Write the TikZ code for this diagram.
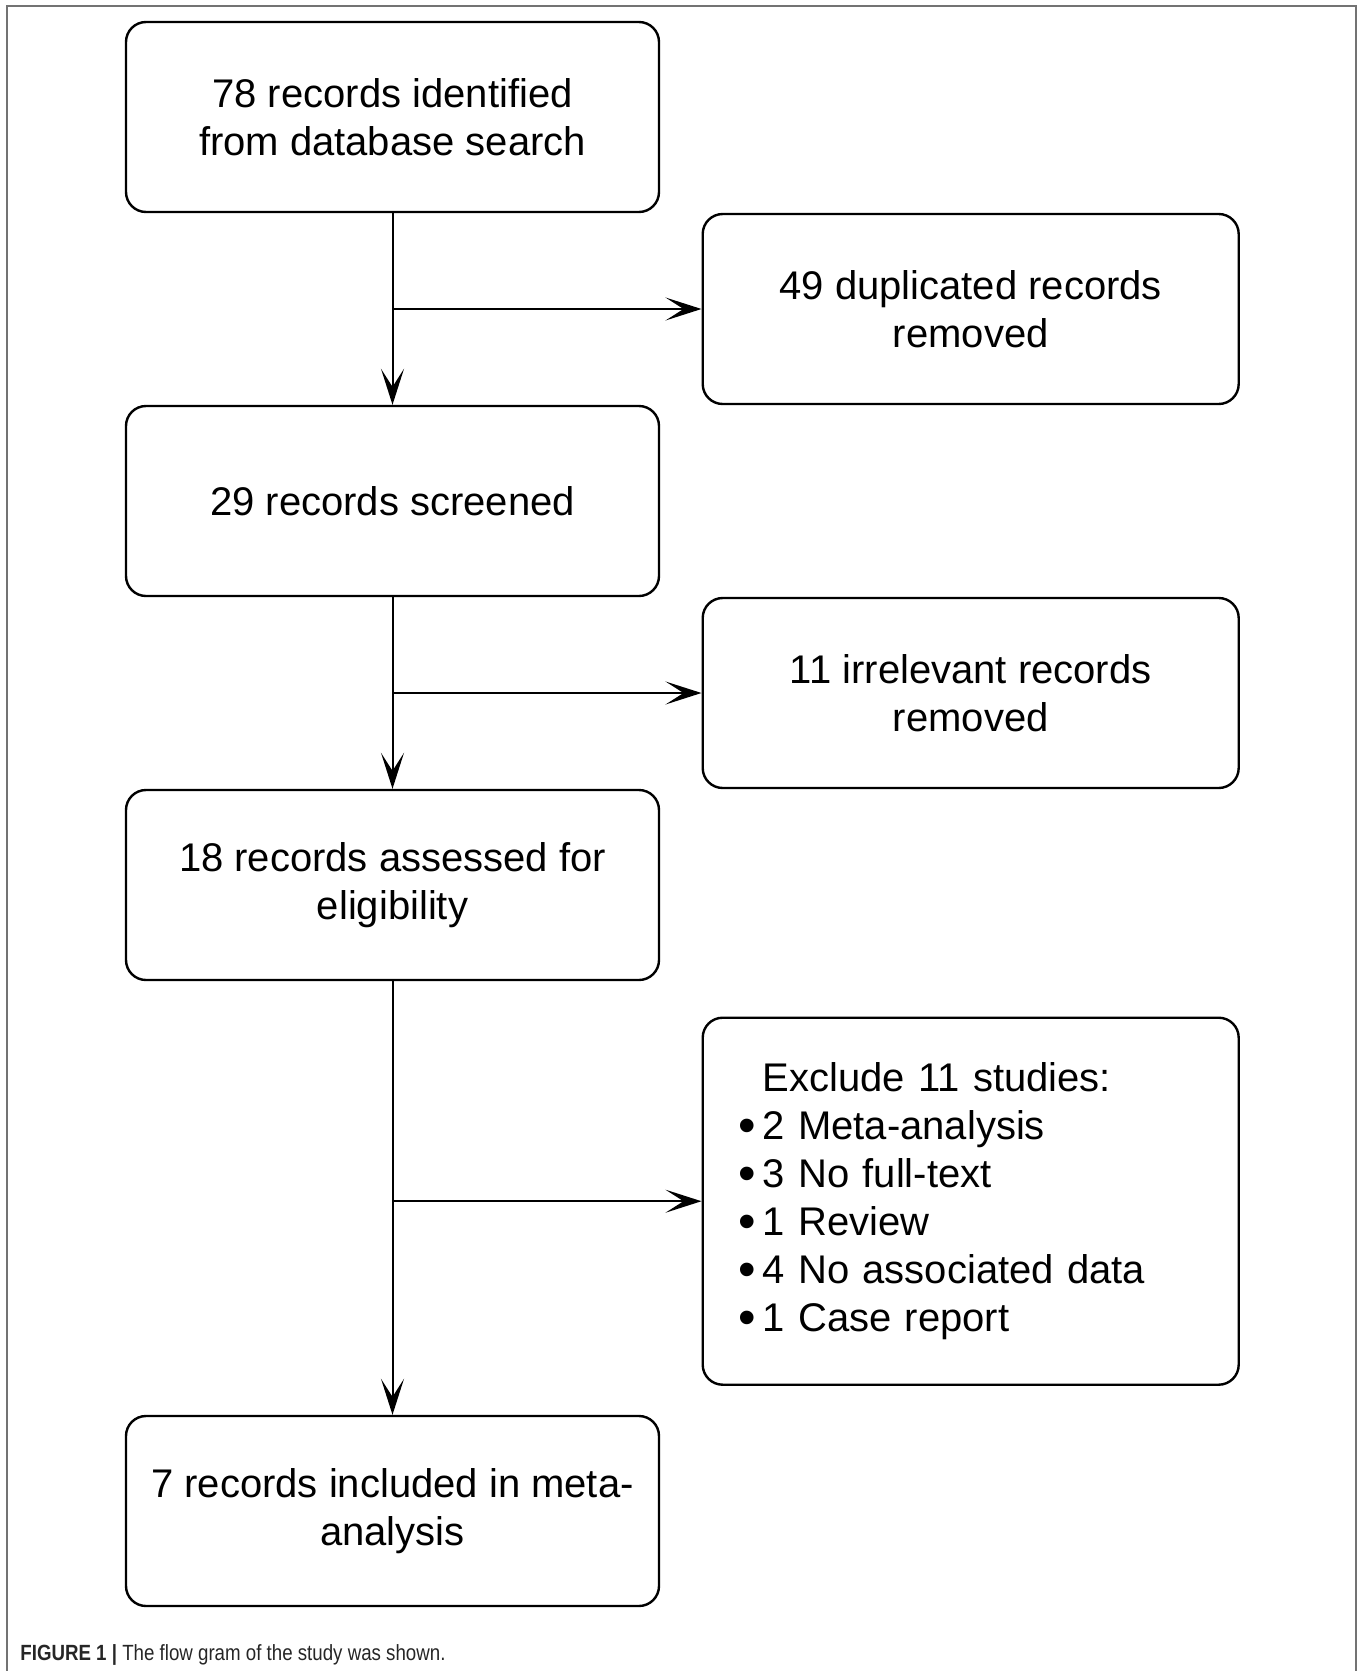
\documentclass[tikz,border=0pt]{standalone}
\usepackage{fontspec}
\setmainfont{Liberation Sans}
\newfontfamily\capfont[FakeStretch=0.85]{Liberation Sans}
\usepackage{xcolor}
\usetikzlibrary{positioning,arrows.meta,calc}
\tikzset{
    flowbox/.style={draw, line width=1.2pt, rounded corners=10pt, align=center, minimum width=266.5pt, minimum height=95pt, font=\fontsize{20pt}{24pt}\selectfont},
    flowside/.style={flowbox, minimum width=268pt},
    flowlist/.style={flowside, align=left, text width=232pt, inner xsep=18pt, minimum height=183.5pt},
    flowarrow/.style={draw, line width=1pt, -{Stealth[length=18pt, width=11.5pt, inset=9pt]}},
    flowframe/.style={draw=black!55, line width=1pt}
}
\newcommand{\exbullet}{\makebox[12pt][l]{\raisebox{-1.5pt}[0pt][0pt]{\fontsize{25pt}{24pt}\selectfont\textbullet}}}

\begin{document}
\begin{tikzpicture}[node distance=95.8pt and 154.5pt]
    \useasboundingbox (0,0) rectangle (681pt,-835.5pt);
    \draw[flowframe] (3.5pt,-835.5pt) -- (3.5pt,-3pt) -- (678pt,-3pt) -- (678pt,-835.5pt);
    \node[flowbox] (found) at (196.25pt,-58.5pt) {78 records identified\\from database search};
    \node[flowbox, below=of found] (screen) {29 records screened};
    \node[flowbox, below=of screen] (assess) {18 records assessed for\\eligibility};
    \node[flowbox, below=216.8pt of assess] (incl) {7 records included in meta-\\analysis};
    \coordinate (dupfork) at ($(found.south)!0.5!(screen.north)$);
    \coordinate (irrfork) at ($(screen.south)!0.5!(assess.north)$);
    \coordinate (exfork) at ($(assess.south)!0.5!(incl.north)+(0,-1.6pt)$);
    \node[flowside, right=of dupfork] (dup) {49 duplicated records\\removed};
    \node[flowside, right=of irrfork] (irr) {11 irrelevant records\\removed};
    \node[flowlist, right=of exfork] (excl) {\hspace*{12pt}Exclude 11 studies:\\
        \exbullet 2 Meta-analysis\\
        \exbullet 3 No full-text\\
        \exbullet 1 Review\\
        \exbullet 4 No associated data\\
        \exbullet 1 Case report};
    \draw[flowarrow] (found) -- (screen);
    \draw[flowarrow] (screen) -- (assess);
    \draw[flowarrow] (assess) -- (incl);
    \draw[flowarrow] (dupfork) -- (dup);
    \draw[flowarrow] (irrfork) -- (irr);
    \draw[flowarrow] (exfork) -- (excl);
    \node[anchor=base west, font=\capfont\fontsize{11pt}{13pt}\selectfont, text=black!85, inner sep=0pt] (cap) at (10pt,-830pt) {\textbf{FIGURE 1 |} The flow gram of the study was shown.};
\end{tikzpicture}
\end{document}
